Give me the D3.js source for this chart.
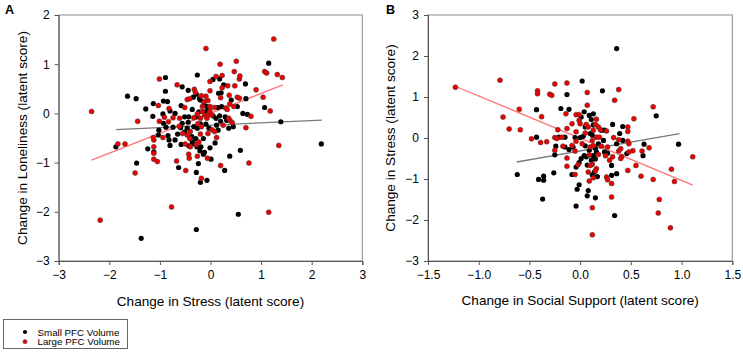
<!DOCTYPE html>
<meta charset="utf-8">
<script src="https://d3js.org/d3.v7.min.js"></script>
<style>
  body { margin: 0; background: #fff; }
  svg { font-family: Arial, "Liberation Sans", sans-serif; }
</style>
<div id="my_dataviz"></div>
<script>
  // ---- data ----
  // panel A: change in stress (x) vs change in loneliness (y)
  var aSmall = [[2.19,-0.62],[1.15,1.02],[1.07,0.12],[1.39,-0.17],[0.28,-1.16],[0.64,0.0],[0.73,-0.02],[0.70,0.30],[0.69,0.60],[0.59,-0.75],[0.38,-0.87],[-0.26,0.78],[-0.89,0.73],[-0.56,0.54],[-0.89,0.45],[-1.64,0.35],[-1.47,0.30],[-1.28,0.09],[-1.13,0.20],[-0.93,0.25],[-0.85,0.24],[-1.14,-0.06],[-0.94,-0.01],[-1.87,-0.68],[-1.24,-0.72],[-1.46,-1.01],[-0.63,-1.10],[-0.28,-1.20],[-0.24,-1.02],[-0.20,-1.40],[-0.07,-1.36],[-0.14,-0.83],[0.01,-0.93],[-0.01,-0.70],[0.09,-0.6],[-1.12,-0.78],[-1.03,-0.44],[-1.02,-0.34],[-0.84,-0.45],[-0.80,-0.65],[-0.70,0.0],[-0.58,0.16],[-0.36,0.08],[-0.34,0.33],[-0.22,0.30],[0.05,0.69],[0.18,0.70],[0.26,0.58],[0.16,0.41],[0.21,0.42],[0.22,0.14],[0.41,0.27],[0.53,0.14],[0.36,-0.30],[0.45,-0.27],[0.29,-0.07],[0.32,-0.14],[-0.13,0.18],[0.14,0.12],[-0.23,0.03],[-0.28,-0.07],[-0.43,-0.07],[-0.51,-0.07],[-0.56,-0.20],[-0.74,-0.28],[-0.88,-0.28],[-0.93,-0.20],[-0.46,-0.30],[-0.33,-0.27],[-0.26,-0.30],[-0.20,-0.21],[-0.09,-0.22],[-0.03,-0.30],[0.15,-0.34],[0.12,-0.24],[-0.65,-0.42],[-0.37,-0.47],[-0.29,-0.51],[-0.14,-0.51],[-0.36,-0.58],[-0.32,-0.62],[-0.43,-0.66],[-0.58,-0.63],[-0.27,-0.68],[-0.21,-0.76],[-0.19,-0.68],[-0.12,-0.79],[-0.59,-0.29],[-0.51,-0.38],[-0.80,0.05],[-0.44,-0.18],[-0.07,0.14],[-0.04,0.07],[-0.44,0.47],[-0.28,0.39],[-0.20,0.27],[0.05,-0.05],[0.11,-0.10],[0.20,-0.16],[0.18,-0.05],[-0.11,0.03],[-0.70,-0.54],[-0.82,-0.54],[-1.37,-2.54],[-0.28,-2.36],[0.55,-2.05]];
  var aLarge = [[-2.35,0.04],[-2.18,-2.17],[-0.77,-1.90],[1.15,-2.01],[1.25,1.51],[-0.09,1.32],[1.07,0.85],[1.11,0.82],[1.32,0.79],[1.42,0.73],[0.90,0.48],[1.04,0.33],[1.18,0.05],[1.35,-0.65],[0.76,-1.01],[0.20,-1.06],[0.70,-0.29],[0.80,-0.06],[0.51,1.06],[0.19,1.0],[0.47,0.85],[0.57,0.70],[0.58,0.76],[0.48,0.56],[0.53,0.33],[0.57,0.31],[-1.01,0.70],[-0.66,0.58],[-1.03,0.16],[-1.44,-0.16],[-1.01,-0.16],[-1.83,-0.62],[-1.69,-0.62],[-1.12,-0.93],[-1.05,-0.98],[-1.49,-1.21],[-0.67,-0.97],[-0.49,-1.16],[-0.18,-1.32],[-0.26,-0.87],[-0.43,-0.83],[-0.42,-0.91],[-0.06,-0.91],[0.12,-0.49],[-1.12,-0.54],[-1.12,-0.68],[-1.12,-0.81],[-1.13,-0.49],[-0.74,-0.09],[-0.83,-0.17],[-0.51,0.12],[-0.46,0.28],[-0.41,0.30],[-0.32,0.49],[-0.30,0.43],[-0.18,0.36],[-0.09,0.35],[-0.05,0.26],[-0.01,0.46],[-0.01,0.65],[0.11,0.75],[0.23,0.77],[0.34,0.56],[0.20,0.32],[0.23,0.52],[0.37,0.37],[0.38,0.19],[0.30,0.11],[0.33,0.08],[0.46,0.14],[0.43,-0.19],[0.39,-0.15],[0.36,-0.10],[-0.01,0.14],[0.08,0.12],[-0.16,0.04],[-0.12,-0.04],[-0.04,-0.02],[0.02,-0.03],[-0.07,-0.10],[-0.20,-0.10],[-0.61,-0.10],[-0.62,-0.26],[-0.91,-0.08],[-0.40,-0.37],[-0.18,-0.27],[0.03,-0.33],[0.08,-0.37],[-0.55,-0.41],[-0.46,-0.44],[-0.20,-0.42],[-0.05,-0.41],[-0.28,-0.63],[-0.23,-0.58],[-0.50,-0.62],[-0.40,-0.68],[-0.25,-0.21],[-0.94,-0.49],[-0.82,0.10],[-0.33,-0.09],[-0.26,-0.01],[-0.16,0.14],[0.25,-0.24],[-0.12,0.24],[-0.01,0.05],[-0.41,-0.51]];
  var aFitSmall = [[-1.87,-0.33],[2.2,-0.135]];
  var aFitLarge = [[-2.35,-0.95],[1.43,0.58]];

  // panel B: change in social support (x) vs change in stress (y)
  var bSmall = [[-0.43,0.02],[-0.43,0.69],[-0.62,-0.89],[-0.41,-1.01],[-0.36,-0.93],[-0.36,-1.03],[-0.37,-1.49],[-0.26,-0.85],[-0.13,1.06],[0.02,1.39],[0.22,1.15],[0.36,2.18],[0.75,0.54],[0.42,0.28],[0.97,-0.15],[0.62,-0.43],[0.63,-0.15],[0.46,-0.38],[0.42,-0.06],[0.36,-0.14],[0.32,0.33],[0.24,0.19],[0.21,0.19],[0.27,-0.37],[0.31,-0.67],[0.36,-0.87],[0.31,-0.91],[0.34,-1.89],[0.15,-1.46],[-0.04,-1.66],[0.08,-1.28],[0.07,-1.41],[-0.03,-1.25],[-0.01,-1.14],[-0.08,-0.89],[-0.04,-0.71],[-0.01,-0.60],[0.14,-0.83],[0.17,-0.94],[0.07,-0.66],[0.11,-0.54],[0.15,-0.51],[0.16,-0.34],[0.13,-0.43],[0.06,-0.46],[0.18,-0.14],[0.12,0.07],[0.10,0.11],[0.13,0.32],[0.13,0.59],[0.11,0.45],[0.04,0.64],[0.01,0.51],[0.05,0.27],[0.03,0.04],[-0.05,0.01],[-0.07,-0.22],[-0.11,-0.28],[-0.15,-0.22],[-0.24,-0.20],[-0.21,0.02],[-0.15,0.02],[-0.19,0.72],[-0.11,0.70],[-0.25,-0.41],[0.01,-0.50],[0.04,-0.43],[0.09,-0.30],[0.05,-0.19],[0.15,-0.25],[0.23,-0.06],[0.24,-0.34],[0.39,0.11],[0.12,-0.90],[0.09,0.55],[0.00,0.01]];
  var bLarge = [[-1.23,1.24],[-0.79,1.41],[-0.76,0.51],[-0.70,0.22],[-0.60,0.70],[-0.59,0.20],[-0.48,-0.02],[-0.42,1.15],[-0.42,1.08],[-0.38,0.52],[-0.39,-0.11],[-0.25,1.32],[-0.13,1.34],[-0.30,1.07],[-0.28,1.04],[0.07,1.11],[0.38,1.18],[0.34,0.92],[0.72,0.76],[0.53,0.47],[0.47,0.27],[0.47,0.16],[1.11,-0.46],[0.90,-0.76],[0.93,-1.06],[0.89,-2.19],[0.77,-1.83],[0.78,-1.50],[0.72,-1.01],[0.60,-0.93],[0.55,-0.67],[0.61,-0.32],[0.68,-0.24],[0.52,-0.31],[0.48,-0.34],[0.47,-0.08],[0.48,-0.14],[0.47,-0.79],[0.38,-0.04],[0.40,-0.26],[0.41,-0.45],[0.40,-0.50],[0.26,0.17],[0.27,-0.22],[0.32,-0.46],[0.25,-0.43],[0.29,-0.54],[0.26,-0.95],[0.27,-1.02],[0.31,-1.11],[0.31,-1.44],[0.12,-2.36],[0.12,-1.70],[-0.05,-0.89],[-0.02,-0.65],[-0.13,-0.69],[0.09,-1.05],[0.16,-0.75],[0.15,-0.80],[0.08,-0.83],[0.13,-0.97],[0.12,-0.64],[0.10,-0.67],[0.18,-0.40],[0.09,-0.41],[0.10,-0.22],[0.13,-0.19],[0.21,-0.20],[0.16,0.02],[0.12,-0.06],[0.13,0.19],[0.08,0.27],[0.15,0.33],[0.16,0.46],[0.07,0.80],[0.18,0.27],[0.20,0.20],[-0.01,0.43],[-0.04,0.57],[-0.01,0.57],[0.00,0.35],[0.05,0.12],[-0.04,-0.08],[-0.05,-0.32],[-0.08,-0.18],[-0.17,-0.20],[-0.25,0.01],[-0.23,-0.01],[-0.22,0.20],[-0.18,0.02],[-0.13,0.23],[-0.14,0.59],[-0.08,0.35],[-0.33,-0.09],[-0.25,-0.30],[-0.13,-0.49],[0.02,-0.14],[0.19,0.02],[0.33,0.01],[0.38,-0.32],[0.06,0.33],[-0.04,0.15]];
  var bFitSmall = [[-0.625,-0.585],[0.98,0.105]];
  var bFitLarge = [[-1.22,1.25],[1.11,-1.15]];

  var aXTicks = [-3, -2, -1, 0, 1, 2, 3];
  var aYTicks = [-3, -2, -1, 0, 1, 2];
  var bXTicks = [-1.5, -1.0, -0.5, 0.0, 0.5, 1.0, 1.5];
  var bYTicks = [-3, -2, -1, 0, 1, 2, 3];
  var legendLabels = ["Small PFC Volume", "Large PFC Volume"];

  var red = "#ee0000";
  var svg = d3.select("#my_dataviz")
    .append("svg")
    .attr("width", 743)
    .attr("height", 360);

  function drawPanel(opt) {
    var x = d3.scaleLinear().domain(opt.xDomain).range([opt.left, opt.right]);
    var y = d3.scaleLinear().domain(opt.yDomain).range([opt.bottom, opt.top]);
    var g = svg.append("g");

    // frame (top/right)
    g.append("rect")
      .attr("x", opt.left).attr("y", opt.top)
      .attr("width", opt.right - opt.left).attr("height", opt.bottom - opt.top)
      .attr("fill", "none").attr("stroke", "#8a8a8a").attr("stroke-width", 1);

    var xAxis = g.append("g")
      .attr("transform", "translate(0," + opt.bottom + ")")
      .call(d3.axisBottom(x).tickValues(opt.xTicks).tickFormat(opt.xFormat)
        .tickSizeOuter(0).tickSize(4).tickPadding(5));
    var yAxis = g.append("g")
      .attr("transform", "translate(" + opt.left + ",0)")
      .call(d3.axisLeft(y).tickValues(opt.yTicks).tickFormat(d3.format("d"))
        .tickSizeOuter(0).tickSize(4).tickPadding(5));
    [xAxis, yAxis].forEach(function(a) {
      a.selectAll("path, line").attr("stroke", "#555");
      a.selectAll("text").attr("fill", "#000").style("font-size", "12px")
        .style("font-family", "Arial, 'Liberation Sans', sans-serif");
    });

    // regression lines
    var line = d3.line()
      .x(function(d) { return x(d[0]); })
      .y(function(d) { return y(d[1]); });
    g.append("path").datum(opt.fitSmall)
      .attr("fill", "none").attr("stroke", "#7a7a7a").attr("stroke-width", 1.3)
      .attr("d", line);
    g.append("path").datum(opt.fitLarge)
      .attr("fill", "none").attr("stroke", "#ff7474").attr("stroke-width", 1.3)
      .attr("d", line);

    // points
    g.append("g").selectAll("circle").data(opt.small).enter()
      .append("circle")
      .attr("cx", function(d) { return x(d[0]); })
      .attr("cy", function(d) { return y(d[1]); })
      .attr("r", 2.6)
      .attr("fill", "#000");
    g.append("g").selectAll("circle").data(opt.large).enter()
      .append("circle")
      .attr("cx", function(d) { return x(d[0]); })
      .attr("cy", function(d) { return y(d[1]); })
      .attr("r", 2.5)
      .attr("fill", red)
      .attr("stroke", "#3a3a3a").attr("stroke-width", 0.5);

    // axis titles
    g.append("text")
      .attr("x", (opt.left + opt.right) / 2)
      .attr("y", opt.xTitleY)
      .attr("text-anchor", "middle")
      .style("font-size", "13.6px")
      .text(opt.xTitle);
    g.append("text")
      .attr("transform", "translate(" + opt.yTitleX + "," + ((opt.top + opt.bottom) / 2) + ") rotate(-90)")
      .attr("text-anchor", "middle")
      .style("font-size", "13.6px")
      .text(opt.yTitle);

    // panel letter
    g.append("text")
      .attr("x", opt.letterX).attr("y", 13.5)
      .style("font-size", "12.5px").style("font-weight", "bold")
      .text(opt.letter);
  }

  drawPanel({
    left: 58.7, right: 362.3, top: 15, bottom: 261,
    xDomain: [-3, 3], yDomain: [-3, 2],
    xTicks: aXTicks, yTicks: aYTicks, xFormat: d3.format("d"),
    small: aSmall, large: aLarge, fitSmall: aFitSmall, fitLarge: aFitLarge,
    xTitle: "Change in Stress (latent score)", xTitleY: 306,
    yTitle: "Change in Loneliness (latent score)", yTitleX: 26.5,
    letter: "A", letterX: 5
  });

  drawPanel({
    left: 428, right: 732.3, top: 15, bottom: 261,
    xDomain: [-1.5, 1.5], yDomain: [-3, 3],
    xTicks: bXTicks, yTicks: bYTicks, xFormat: d3.format(".1f"),
    small: bSmall, large: bLarge, fitSmall: bFitSmall, fitLarge: bFitLarge,
    xTitle: "Change in Social Support (latent score)", xTitleY: 305,
    yTitle: "Change in Stress (latent score)", yTitleX: 395,
    letter: "B", letterX: 386
  });

  // legend
  var legend = svg.append("g");
  legend.append("rect")
    .attr("x", 3.5).attr("y", 319.5)
    .attr("width", 124).attr("height", 29)
    .attr("fill", "#fff").attr("stroke", "#666").attr("stroke-width", 1);
  legendLabels.forEach(function(lab, i) {
    legend.append("circle")
      .attr("cx", 25).attr("cy", 332 + i * 9.7)
      .attr("r", 2.1)
      .attr("fill", i === 0 ? "#000" : red)
      .attr("stroke", i === 0 ? "none" : "#3a3a3a").attr("stroke-width", 0.5);
    legend.append("text")
      .attr("x", 37.5).attr("y", 335.5 + i * 9.7)
      .style("font-size", "9.75px")
      .text(lab);
  });
</script>
